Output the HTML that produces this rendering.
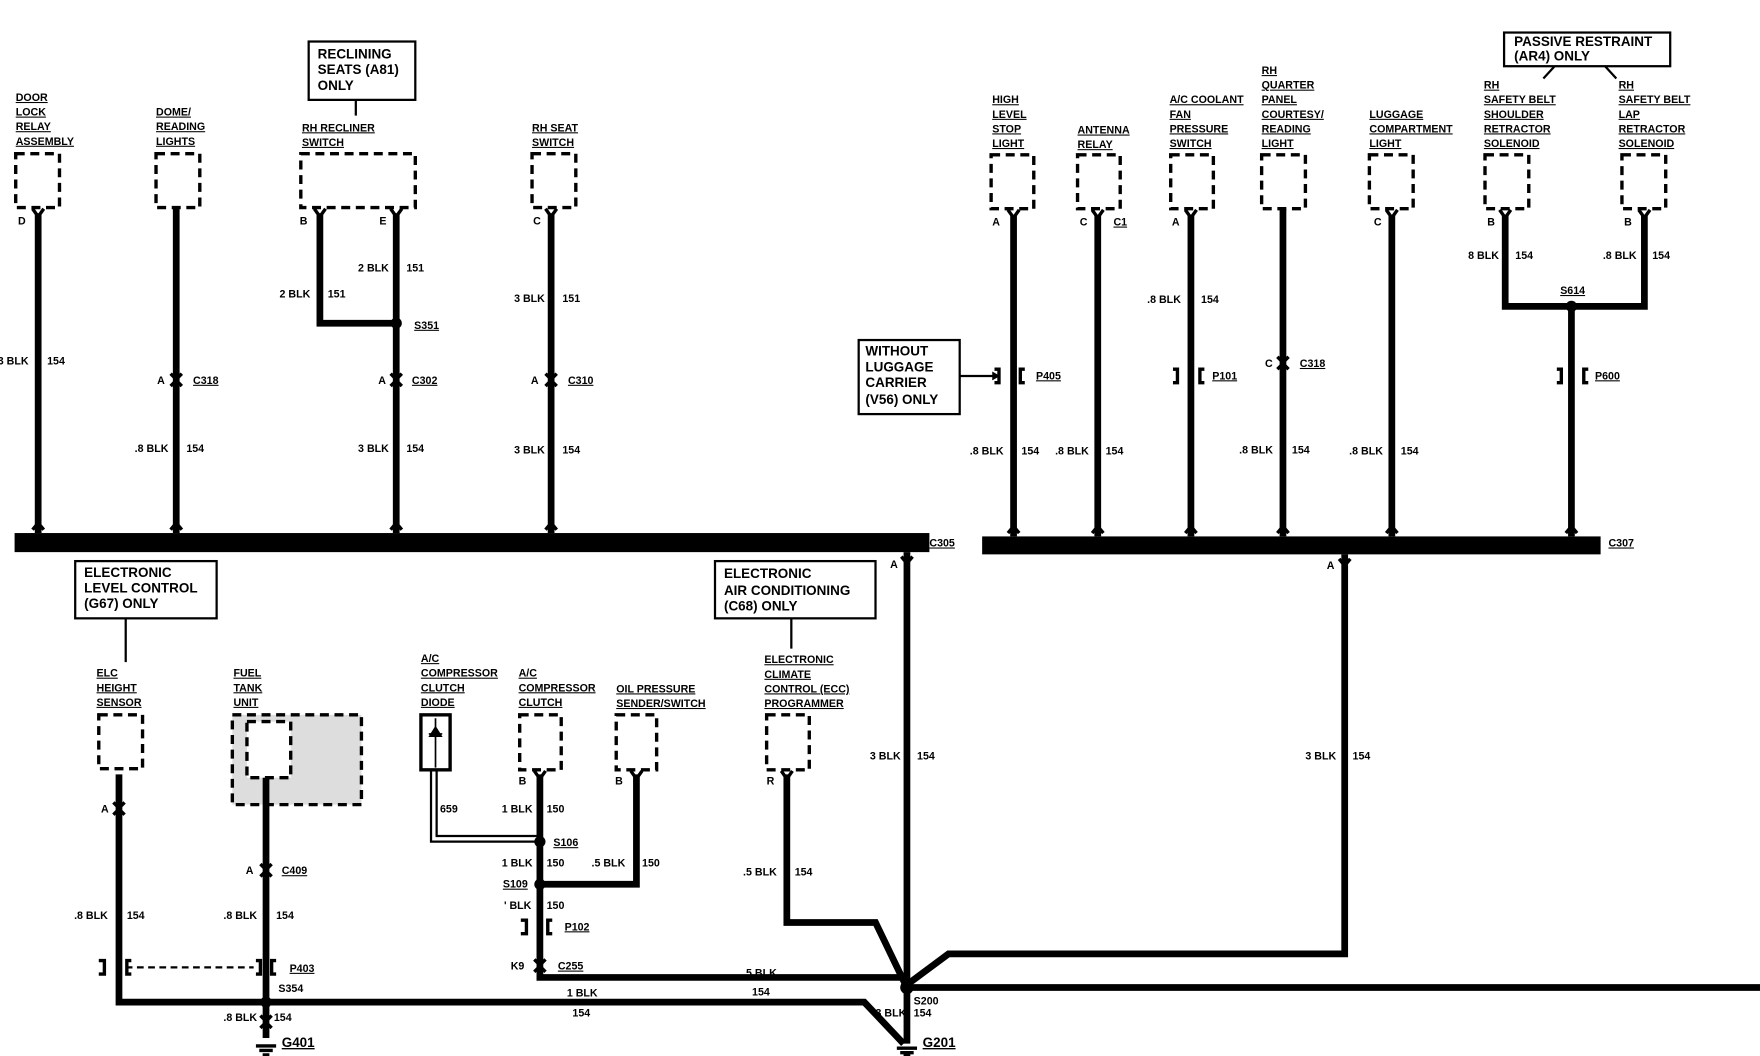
<!DOCTYPE html>
<html><head><meta charset="utf-8"><style>
html,body{margin:0;padding:0;background:#fff}
svg{display:block}
text{font-family:"Liberation Sans",sans-serif;font-weight:bold;fill:#000}
.s{font-size:9.5px}
.b{font-size:12px}
.u{text-decoration:underline}
.w{stroke:#000;stroke-width:6;fill:none}
.d{stroke:#000;stroke-width:3;fill:none;stroke-dasharray:8 5}
.t{stroke:#000;stroke-width:2;fill:none}
</style></head><body>
<svg width="1760" height="1056" viewBox="0 0 1568 941" preserveAspectRatio="none" xmlns="http://www.w3.org/2000/svg">
<rect width="1568" height="941" fill="#fff"/>
<!-- buses -->
<rect x="13" y="475" width="815" height="17" fill="#000"/>
<rect x="875" y="478" width="551" height="16" fill="#000"/>
<text class="s u" x="828" y="487">C305</text>
<text class="s u" x="1433" y="487">C307</text>

<!-- note boxes -->
<rect x="275" y="37" width="95" height="52" class="t"/>
<text class="b" x="283" y="52">RECLINING</text><text class="b" x="283" y="66">SEATS (A81)</text><text class="b" x="283" y="80">ONLY</text>
<path d="M317 89V103" class="t"/>
<rect x="765" y="303" width="90" height="66" class="t"/>
<text class="b" x="771" y="317">WITHOUT</text><text class="b" x="771" y="331">LUGGAGE</text><text class="b" x="771" y="345">CARRIER</text><text class="b" x="771" y="360">(V56) ONLY</text>
<path d="M855 335H890" class="t"/><path d="M884 331L891 335L884 339Z"/>
<rect x="1340" y="29" width="148" height="30" class="t"/>
<text class="b" x="1349" y="41">PASSIVE RESTRAINT</text><text class="b" x="1349" y="54">(AR4) ONLY</text>
<path d="M1385 59L1375 70M1430 59L1440 70" class="t"/>
<rect x="67" y="500" width="126" height="51" class="t"/>
<text class="b" x="75" y="514">ELECTRONIC</text><text class="b" x="75" y="528">LEVEL CONTROL</text><text class="b" x="75" y="542">(G67) ONLY</text>
<path d="M112 551V590" class="t"/>
<rect x="637" y="500" width="143" height="51" class="t"/>
<text class="b" x="645" y="515">ELECTRONIC</text><text class="b" x="645" y="530">AIR CONDITIONING</text><text class="b" x="645" y="544">(C68) ONLY</text>
<path d="M705 551V578" class="t"/>

<!-- top-left components -->
<g class="s u">
<text x="14" y="90">DOOR</text><text x="14" y="103">LOCK</text><text x="14" y="116">RELAY</text><text x="14" y="129">ASSEMBLY</text>
<text x="139" y="103">DOME/</text><text x="139" y="116">READING</text><text x="139" y="129">LIGHTS</text>
<text x="269" y="117">RH RECLINER</text><text x="269" y="130">SWITCH</text>
<text x="474" y="117">RH SEAT</text><text x="474" y="130">SWITCH</text>
<text x="884" y="92">HIGH</text><text x="884" y="105">LEVEL</text><text x="884" y="118">STOP</text><text x="884" y="131">LIGHT</text>
<text x="960" y="119">ANTENNA</text><text x="960" y="132">RELAY</text>
<text x="1042" y="92">A/C COOLANT</text><text x="1042" y="105">FAN</text><text x="1042" y="118">PRESSURE</text><text x="1042" y="131">SWITCH</text>
<text x="1124" y="66">RH</text><text x="1124" y="79">QUARTER</text><text x="1124" y="92">PANEL</text><text x="1124" y="105">COURTESY/</text><text x="1124" y="118">READING</text><text x="1124" y="131">LIGHT</text>
<text x="1220" y="105">LUGGAGE</text><text x="1220" y="118">COMPARTMENT</text><text x="1220" y="131">LIGHT</text>
<text x="1322" y="79">RH</text><text x="1322" y="92">SAFETY BELT</text><text x="1322" y="105">SHOULDER</text><text x="1322" y="118">RETRACTOR</text><text x="1322" y="131">SOLENOID</text>
<text x="1442" y="79">RH</text><text x="1442" y="92">SAFETY BELT</text><text x="1442" y="105">LAP</text><text x="1442" y="118">RETRACTOR</text><text x="1442" y="131">SOLENOID</text>
<text x="86" y="603">ELC</text><text x="86" y="616">HEIGHT</text><text x="86" y="629">SENSOR</text>
<text x="208" y="603">FUEL</text><text x="208" y="616">TANK</text><text x="208" y="629">UNIT</text>
<text x="266" y="653">FUEL</text><text x="266" y="666">PUMP</text>
<text x="375" y="590">A/C</text><text x="375" y="603">COMPRESSOR</text><text x="375" y="616">CLUTCH</text><text x="375" y="629">DIODE</text>
<text x="462" y="603">A/C</text><text x="462" y="616">COMPRESSOR</text><text x="462" y="629">CLUTCH</text>
<text x="549" y="617">OIL PRESSURE</text><text x="549" y="630">SENDER/SWITCH</text>
<text x="681" y="591">ELECTRONIC</text><text x="681" y="604">CLIMATE</text><text x="681" y="617">CONTROL (ECC)</text><text x="681" y="630">PROGRAMMER</text>
</g>
<!-- dashed boxes -->
<g class="d">
<rect x="14" y="137" width="39" height="48"/><rect x="139" y="137" width="39" height="48"/>
<rect x="268" y="137" width="102" height="48"/><rect x="474" y="137" width="39" height="48"/>
<rect x="883" y="138" width="38" height="48"/><rect x="960" y="138" width="38" height="48"/>
<rect x="1043" y="138" width="38" height="48"/><rect x="1124" y="138" width="39" height="48"/>
<rect x="1220" y="138" width="39" height="48"/><rect x="1323" y="138" width="39" height="48"/>
<rect x="1445" y="138" width="39" height="48"/>
<rect x="88" y="637" width="39" height="48"/>
<rect x="207" y="637" width="115" height="80" fill="#ddd"/>
<rect x="220" y="643" width="39" height="50" fill="#fff"/>
<rect x="463" y="637" width="37" height="49"/><rect x="549" y="637" width="36" height="49"/>
<rect x="683" y="637" width="38" height="49"/>
</g>
<rect x="375" y="637" width="26" height="49" fill="none" stroke="#000" stroke-width="3"/>
<path d="M388 640V684M382 654H394M388 648L383 656H393Z" stroke="#000" stroke-width="1.5"/>
<!-- wires -->
<g class="w">
<path d="M34 190V475"/><path d="M157 186V475"/>
<path d="M285 190V288H353"/><path d="M353 190V475"/><path d="M491 190V475"/>
<path d="M903 192V478"/><path d="M978 192V478"/><path d="M1061 192V478"/><path d="M1143 186V478"/><path d="M1240 192V478"/>
<path d="M1341 192V273H1465V192"/><path d="M1400 273V478"/>
<path d="M808 492V930"/>
<path d="M1198 494V850H845L810 876"/>
<path d="M808 880H1568"/>
<path d="M106 690V893H237"/><path d="M237 693V925"/>
<path d="M237 893H770L805 930"/>
<path d="M481 690V871H808"/>
<path d="M567 690V788H481"/>
<path d="M701 690V822H780L806 876"/>
</g>
<path d="M384 686V750H478M389 686V745H478" stroke="#000" stroke-width="2" fill="none"/>
<path d="M112 862H226" stroke="#000" stroke-width="2" stroke-dasharray="6 4"/>
<!-- pin forks -->
<g stroke="#000" stroke-width="3" fill="none">
<path d="M29 186L34 193L39 186M280 186L285 193L290 186M348 186L353 193L358 186M486 186L491 193L496 186M898 187L903 194L908 187M973 187L978 194L983 187M1056 187L1061 194L1066 187M1235 187L1240 194L1245 187M1336 187L1341 194L1346 187M1460 187L1465 194L1470 187M476 687L481 694L486 687M562 687L567 694L572 687M696 687L701 694L706 687"/>
<!-- inline connectors -->
<path d="M152 333L157 338L162 333M152 344L157 339L162 344M348 333L353 338L358 333M348 344L353 339L358 344M486 333L491 338L496 333M486 344L491 339L496 344M1138 318L1143 323L1148 318M1138 329L1143 324L1148 329M101 715L106 720L111 715M101 726L106 721L111 726M232 770L237 775L242 770M232 781L237 776L242 781M476 855L481 860L486 855M476 866L481 861L486 866M232 905L237 910L242 905M232 916L237 911L242 916"/>
<path d="M29 472L34 466L39 472M152 472L157 466L162 472M348 472L353 466L358 472M486 472L491 466L496 472M898 475L903 469L908 475M973 475L978 469L983 475M1056 475L1061 469L1066 475M1138 475L1143 469L1148 475M1235 475L1240 469L1245 475M1395 475L1400 469L1405 475M803 496L808 502L813 496M1193 498L1198 504L1203 498"/>
<!-- brackets -->
<path d="M886 329H890V341H886M913 329H909V341H913M1045 329H1049V341H1045M1073 329H1069V341H1073M1387 329H1391V341H1387M1415 329H1411V341H1415M88 856H93V868H88M117 856H113V868H117M228 856H232V868H228M246 856H242V868H246M464 820H469V832H464M492 820H488V832H492"/>
<!-- grounds -->
<path d="M228 932H246M231 936H243M234 940H240M799 934H817M802 938H814M805 941H811"/>
</g>
<!-- splices -->
<g fill="#000"><circle cx="353" cy="288" r="5"/><circle cx="1400" cy="273" r="5"/><circle cx="481" cy="750" r="5"/><circle cx="481" cy="788" r="5"/><circle cx="237" cy="893" r="5"/><circle cx="808" cy="880" r="6"/></g>
<!-- labels -->
<g class="s">
<text x="16" y="200">D</text><text x="267" y="200">B</text><text x="338" y="200">E</text><text x="475" y="200">C</text>
<text x="884" y="201">A</text><text x="962" y="201">C</text><text x="1044" y="201">A</text><text x="1224" y="201">C</text><text x="1325" y="201">B</text><text x="1447" y="201">B</text>
<text x="-2" y="325">3 BLK</text><text x="42" y="325">154</text>
<text x="319" y="242">2 BLK</text><text x="362" y="242">151</text>
<text x="249" y="265">2 BLK</text><text x="292" y="265">151</text>
<text x="458" y="269">3 BLK</text><text x="501" y="269">151</text>
<text x="140" y="342">A</text><text x="337" y="342">A</text><text x="473" y="342">A</text><text x="1127" y="327">C</text>
<text x="120" y="403">.8 BLK</text><text x="166" y="403">154</text>
<text x="319" y="403">3 BLK</text><text x="362" y="403">154</text>
<text x="458" y="404">3 BLK</text><text x="501" y="404">154</text>
<text x="864" y="405">.8 BLK</text><text x="910" y="405">154</text>
<text x="940" y="405">.8 BLK</text><text x="985" y="405">154</text>
<text x="1022" y="270">.8 BLK</text><text x="1070" y="270">154</text>
<text x="1104" y="404">.8 BLK</text><text x="1151" y="404">154</text>
<text x="1202" y="405">.8 BLK</text><text x="1248" y="405">154</text>
<text x="1308" y="231">8 BLK</text><text x="1350" y="231">154</text>
<text x="1428" y="231">.8 BLK</text><text x="1472" y="231">154</text>
<text x="793" y="506">A</text><text x="1182" y="507">A</text>
<text x="775" y="677">3 BLK</text><text x="817" y="677">154</text>
<text x="1163" y="677">3 BLK</text><text x="1205" y="677">154</text>
<text x="90" y="724">A</text><text x="219" y="779">A</text>
<text x="66" y="819">.8 BLK</text><text x="113" y="819">154</text>
<text x="199" y="819">.8 BLK</text><text x="246" y="819">154</text>
<text x="248" y="884">S354</text>
<text x="199" y="910">.8 BLK</text><text x="244" y="910">154</text>
<text x="462" y="699">B</text><text x="548" y="699">B</text><text x="683" y="699">R</text>
<text x="392" y="724">659</text>
<text x="447" y="724">1 BLK</text><text x="487" y="724">150</text>
<text x="447" y="772">1 BLK</text><text x="487" y="772">150</text>
<text x="527" y="772">.5 BLK</text><text x="572" y="772">150</text>
<text x="449" y="810">' BLK</text><text x="487" y="810">150</text>
<text x="455" y="864">K9</text>
<text x="662" y="780">.5 BLK</text><text x="708" y="780">154</text>
<text x="662" y="870">.5 BLK</text><text x="670" y="887">154</text>
<text x="505" y="888">1 BLK</text><text x="510" y="906">154</text>
<text x="814" y="895">S200</text>
<text x="780" y="906">3 BLK</text><text x="814" y="906">154</text>
</g>
<g class="s u">
<text x="172" y="342">C318</text><text x="367" y="342">C302</text><text x="506" y="342">C310</text>
<text x="369" y="293">S351</text><text x="992" y="201">C1</text><text x="1158" y="327">C318</text>
<text x="1390" y="262">S614</text>
<text x="923" y="338">P405</text><text x="1080" y="338">P101</text><text x="1421" y="338">P600</text>
<text x="251" y="779">C409</text><text x="258" y="866">P403</text>
<text x="493" y="754">S106</text><text x="448" y="791">S109</text><text x="503" y="829">P102</text><text x="497" y="864">C255</text>
</g>
<g class="b u"><text x="251" y="933">G401</text><text x="822" y="933">G201</text></g>
</svg>
</body></html>
